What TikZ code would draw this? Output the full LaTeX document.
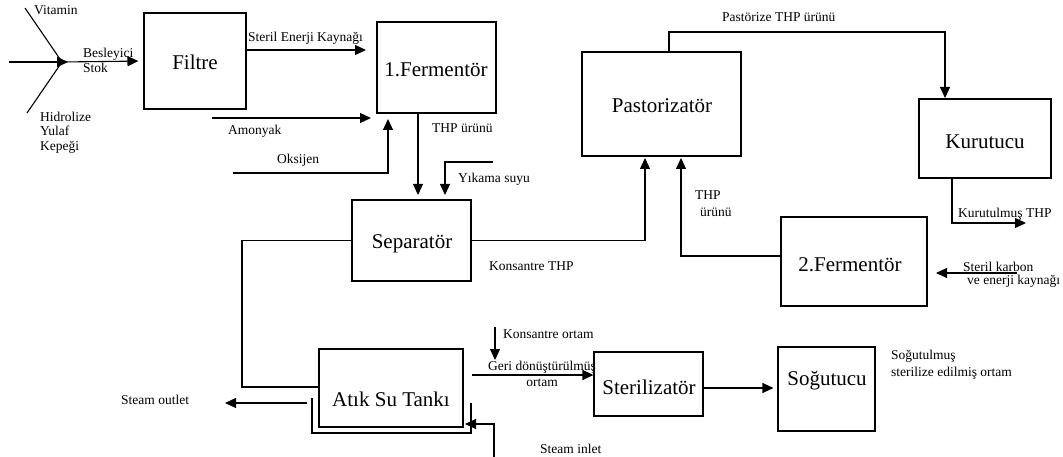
\documentclass[tikz,border=0pt]{standalone}
\usepackage{fontspec}
\setmainfont{Liberation Serif}
\usetikzlibrary{arrows.meta}
\newcommand\boxfont{\fontsize{21}{25}\selectfont}
\newcommand\lblfont{\fontsize{13.5}{15}\selectfont}
\begin{document}
\begin{tikzpicture}[x=1pt,y=-1pt,
  box/.style={draw,line width=1.1pt,inner sep=0pt},
  boxtext/.style={anchor=base,font=\boxfont,inner sep=0pt},
  lbl/.style={anchor=base west,font=\lblfont,inner sep=0pt},
  ln/.style={line width=1.1pt},
  arr/.style={line width=1.1pt,-{Triangle[length=11pt,width=10pt]}}]
\useasboundingbox (0,0) rectangle (1063,457);
% boxes
\node[box,minimum width=102pt,minimum height=96pt] (filtre) at (195,61) {};
\node[box,minimum width=119pt,minimum height=91pt] (ferm1) at (436.5,67.5) {};
\node[box,minimum width=119pt,minimum height=81pt] (sep) at (411.5,240.5) {};
\node[box,minimum width=144pt,minimum height=78pt] (atik) at (391,388) {};
\node[box,minimum width=159pt,minimum height=104pt] (past) at (661.5,104) {};
\node[box,minimum width=132pt,minimum height=79pt] (kuru) at (985,138.5) {};
\node[box,minimum width=146pt,minimum height=89pt] (ferm2) at (854,261.5) {};
\node[box,minimum width=109pt,minimum height=64pt] (ster) at (648.5,384) {};
\node[box,minimum width=97pt,minimum height=84pt] (sogu) at (826.5,389) {};
% box texts
\node[boxtext] (filtreT) at (195,70) {Filtre};
\node[boxtext] (ferm1T) at (436,77) {1.Fermentör};
\node[boxtext] (sepT) at (412,249) {Separatör};
\node[boxtext] (atikT) at (391,406) {Atık Su Tankı};
\node[boxtext] (pastT) at (662,113) {Pastorizatör};
\node[boxtext] (kuruT) at (985,149) {Kurutucu};
\node[boxtext] (ferm2T) at (850,271) {2.Fermentör};
\node[boxtext] (sterT) at (649,394) {Sterilizatör};
\node[boxtext] (soguT) at (827,385) {Soğutucu};
% free ends
\coordinate (vitA) at (25,8);
\coordinate (hidA) at (27,113);
\coordinate (inA) at (9,62);
\coordinate (junc) at (62,62);
\coordinate (juncTip) at (68,62);
\coordinate (enerjiTip) at (366,50);
\coordinate (amonA) at (212,118);
\coordinate (amonTip) at (371,118);
\coordinate (oksA) at (233,173);
\coordinate (oksTip) at (388,119);
\coordinate (thp1Tip) at (418,195);
\coordinate (yikA) at (493,162);
\coordinate (yikTip) at (445,195);
\coordinate (atikJoin) at (242,387);
\coordinate (outA) at (307,403);
\coordinate (outTip) at (225,403);
\coordinate (brTL) at (312,398);
\coordinate (brBL) at (312,433);
\coordinate (brBR) at (471,433);
\coordinate (brTR) at (471,403);
\coordinate (inlA) at (494,457);
\coordinate (inlTip) at (465,424);
\coordinate (korA) at (495,327);
\coordinate (korTip) at (495,360);
\coordinate (geriA) at (472,375);
\coordinate (sArr) at (740,388);
\coordinate (konsTip) at (645,158);
\coordinate (thp2A) at (775,256);
\coordinate (thp2Tip) at (681,158);
\coordinate (pA) at (669,32);
\coordinate (kuruTip) at (945,98);
\coordinate (kX) at (952,223);
\coordinate (kTip) at (1026,223);
\coordinate (skA) at (1017,273);
\coordinate (skTip) at (936,273);
% connectors
\draw[ln] (vitA) -- (junc);
\draw[ln] (hidA) -- (junc);
\draw[arr] (inA) -- (juncTip);
\draw[arr,shorten >=5pt] (junc) -- (filtre.west);
\draw[arr] (filtre.east |- enerjiTip) -- (enerjiTip);
\draw[arr] (amonA) -- (amonTip);
\draw[arr] (oksA) -| (oksTip);
\draw[arr] (ferm1.south -| thp1Tip) -- (thp1Tip);
\draw[arr] (yikA) -| (yikTip);
\draw[ln] (sep.west) -| (atikJoin) -- (atik.west |- atikJoin);
\draw[arr] (outA) -- (outTip);
\draw[ln] (brTL) -- (brBL) -- (brBR) -- (brTR);
\draw[arr] (inlA) |- (inlTip);
\draw[arr] (korA) -- (korTip);
\draw[arr] (geriA) -- (ster.west |- geriA);
\draw[arr,shorten >=4pt] (ster.east |- sArr) -- (sogu.west |- sArr);
\draw[arr] (sep.east) -| (konsTip);
\draw[arr] (ferm2.west |- thp2A) -| (thp2Tip);
\draw[arr] (past.north -| pA) -- (pA) -| (kuruTip);
\draw[arr] (kuru.south -| kX) |- (kTip);
\draw[arr] (skA) -- (skTip);
% labels (base = baseline of the last line)
\node[lbl] (vitL) at (34,14.5) {Vitamin};
\node[lbl,align=left] (besL) at (83,72.5) {Besleyici\\Stok};
\node[lbl,align=left,font=\fontsize{13.5}{14.5}\selectfont] (hidL) at (40,150.5) {Hidrolize\\Yulaf\\Kepeği};
\node[lbl] (enerjiL) at (248,41.5) {Steril Enerji Kaynağı};
\node[lbl] (amonL) at (228,134.5) {Amonyak};
\node[lbl] (oksL) at (277,163.5) {Oksijen};
\node[lbl] (thp1L) at (432,132.5) {THP ürünü};
\node[lbl] (yikL) at (458,182.5) {Yıkama suyu};
\node[lbl] (konsL) at (489,270.5) {Konsantre THP};
\node[lbl] (outL) at (121,404.5) {Steam outlet};
\node[lbl] (korL) at (503,338.5) {Konsantre ortam};
\node[lbl,anchor=base,align=center,font=\fontsize{13.5}{16}\selectfont] (geriL) at (542,386.5) {Geri dönüştürülmüş\\ortam};
\node[lbl] (inlL) at (540,453.5) {Steam inlet};
\node[lbl,align=left,font=\fontsize{13.5}{17}\selectfont] (soguL) at (891,376.5) {Soğutulmuş\\sterilize edilmiş ortam};
\node[lbl] (pastL) at (722,21.5) {Pastörize THP ürünü};
\node[lbl,align=left,font=\fontsize{13.5}{17}\selectfont] (thp2L) at (695,217) {THP\\\hspace*{5pt}ürünü};
\node[lbl] (kuruL) at (958,217.5) {Kurutulmuş THP};
\node[lbl,align=left,font=\fontsize{13.5}{13.5}\selectfont] (skL) at (963,284.5) {Steril karbon\\\hspace*{4pt}ve enerji kaynağı};
\end{tikzpicture}
\end{document}
